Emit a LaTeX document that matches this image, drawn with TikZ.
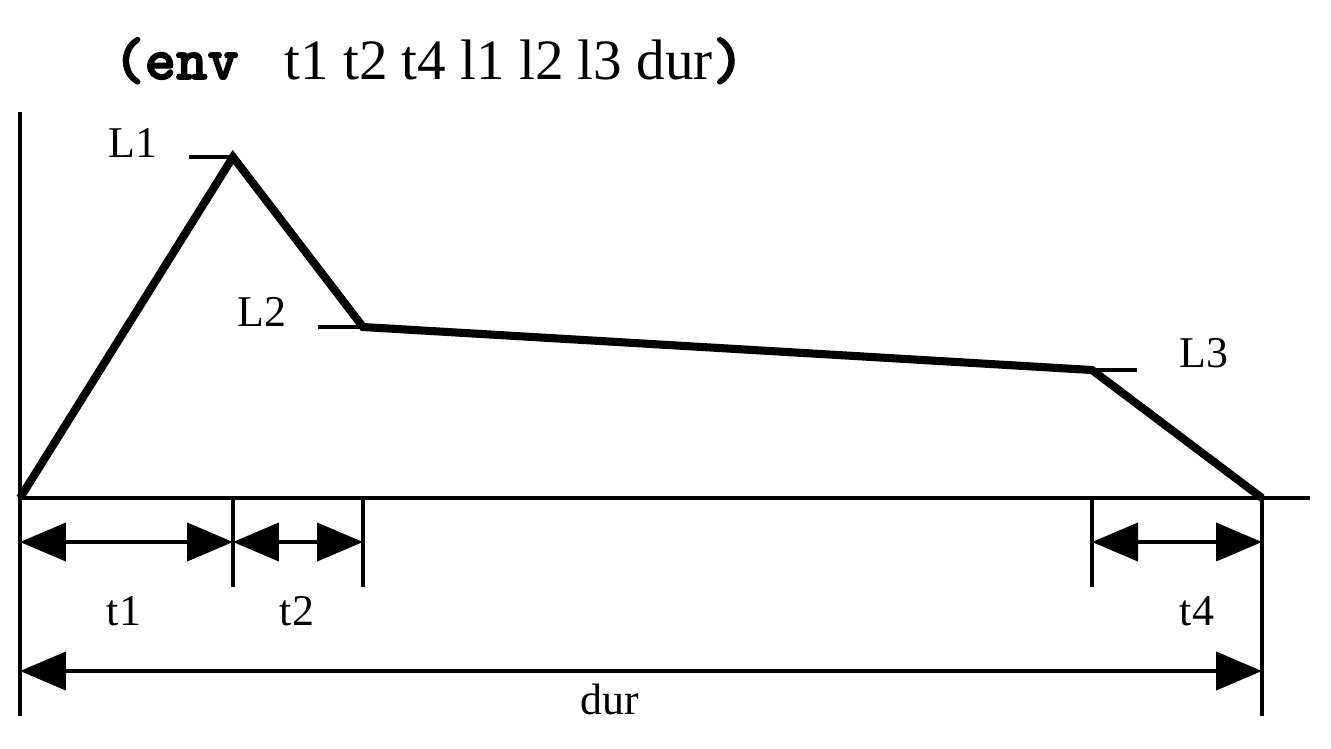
\documentclass[tikz,border=0pt]{standalone}
\usepackage{fontspec}
\setmainfont{Liberation Serif}
\newfontface\codefont{lmmonolt10-bold.otf}[FakeBold=2.5]
\usetikzlibrary{arrows.meta}

\begin{document}
\begin{tikzpicture}[x=0.02cm,y=-0.02cm,>={Triangle[length=0.92cm,width=0.76cm]},
  every node/.style={font=\fontsize{25}{30}\selectfont,inner sep=0pt},
  thinline/.style={line width=2.4pt},
  envline/.style={line width=4.6pt,line join=miter}]
  \useasboundingbox (0,0) rectangle (1331,748);
  % axes
  \coordinate (O) at (20,498);
  \coordinate (top) at (20,112);
  \coordinate (bot) at (20,716);
  \coordinate (xend) at (1310,498);
  \draw[thinline] (top)--(bot);
  \draw[thinline] (O)--(xend);
  % break points of the envelope
  \coordinate (P1) at (233,157);
  \coordinate (P2) at (363,327);
  \coordinate (P3) at (1092,370);
  \coordinate (P4) at (1262,498);
  \draw[thinline] (P1)--++(-44,0);
  \draw[thinline] (P2)--++(-45,0);
  \draw[thinline] (P3)--++(45,0);
  \draw[envline] (O)--(P1)--(P2)--(P3)--(P4);
  % time marks
  \draw[thinline] (P1|-O)--++(0,89);
  \draw[thinline] (P2|-O)--++(0,89);
  \draw[thinline] (P3|-O)--++(0,89);
  \draw[thinline] (P4)--++(0,218);
  \coordinate (a0) at (20,542);
  \coordinate (a1) at (233,542);
  \coordinate (a2) at (363,542);
  \coordinate (a3) at (1092,542);
  \coordinate (a4) at (1262,542);
  \coordinate (d0) at (20,671);
  \coordinate (d1) at (1262,671);
  \draw[thinline,<->] (a0)--(a1);
  \draw[thinline,<->] (a1)--(a2);
  \draw[thinline,<->] (a3)--(a4);
  \draw[thinline,<->] (d0)--(d1);
  % labels
  \node[anchor=base] (L1) at (133,157) {L1};
  \node[anchor=base] (L2) at (262,326) {L2};
  \node[anchor=base] (L3) at (1204,367) {L3};
  \node[anchor=base] (t1) at (124,625) {t1};
  \node[anchor=base] (t2) at (297,625) {t2};
  \node[anchor=base] (t4) at (1197,625) {t4};
  \node[anchor=base] (dur) at (610,714) {dur};
  \node[anchor=base west] (title) at (113,79)
    {\fontsize{32.5}{36}\selectfont{\fontsize{34}{36}\codefont(env}\hspace{0.8em}t1 t2 t4 l1 l2 l3 dur{\fontsize{34}{36}\codefont)}};
\end{tikzpicture}
\end{document}
